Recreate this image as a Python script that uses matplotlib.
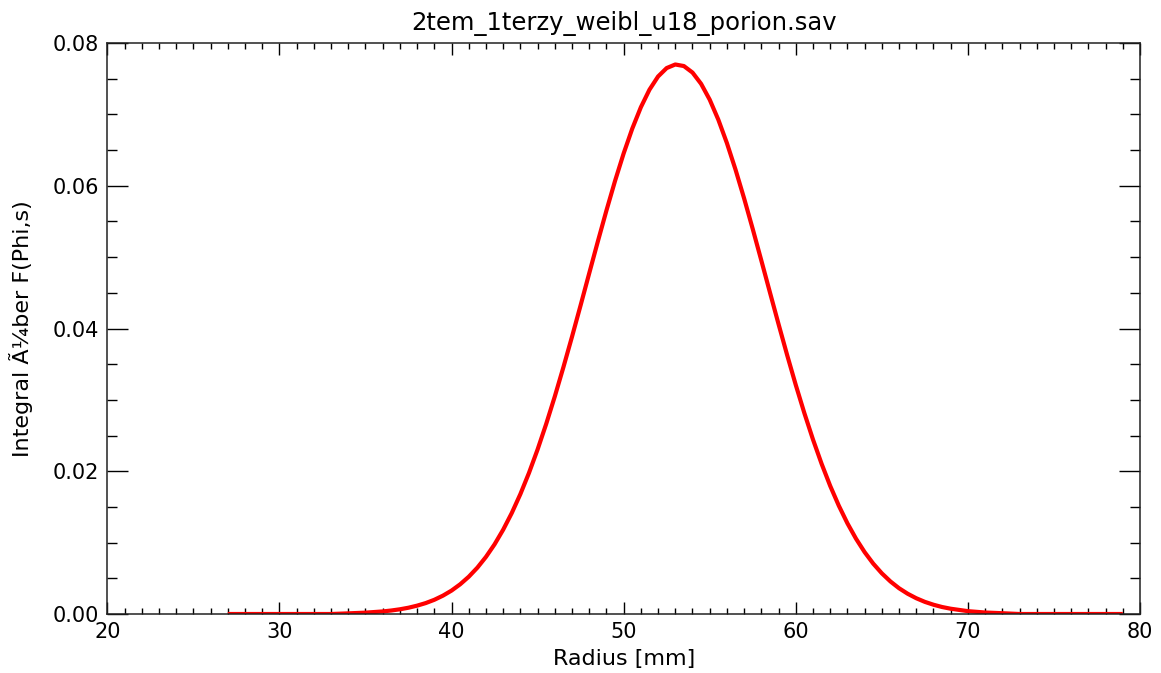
import matplotlib
matplotlib.use("Agg")
import matplotlib.pyplot as plt
from matplotlib.ticker import MultipleLocator, FormatStrFormatter

title = "2tem_1terzy_weibl_u18_porion.sav"
xlabel = "Radius [mm]"
ylabel = "Integral Ã¼ber F(Phi,s)"

radius = [27, 28, 29, 30, 31, 32, 33, 34, 35,
          36.0, 36.5, 37.0, 37.5, 38.0, 38.5, 39.0, 39.5, 40.0, 40.5, 41.0, 41.5,
          42.0, 42.5, 43.0, 43.5, 44.0, 44.5, 45.0, 45.5, 46.0, 46.5, 47.0, 47.5,
          48.0, 48.5, 49.0, 49.5, 50.0, 50.5, 51.0, 51.5, 52.0, 52.5, 53.0, 53.5,
          54.0, 54.5, 55.0, 55.5, 56.0, 56.5, 57.0, 57.5, 58.0, 58.5, 59.0, 59.5,
          60.0, 60.5, 61.0, 61.5, 62.0, 62.5, 63.0, 63.5, 64.0, 64.5, 65.0, 65.5,
          66.0, 66.5, 67.0, 67.5, 68.0, 68.5, 69.0, 70, 71, 72,
          73, 74, 75, 76, 77, 78, 79]
integral = [0.0, 0.0, 0.0, 0.0, 0.0, 0.0, 0.0, 0.00009, 0.00019,
            0.00036, 0.00049, 0.00066, 0.00088, 0.00117, 0.00153, 0.00199, 0.00257,
            0.00328, 0.00416, 0.00522, 0.00649, 0.00800, 0.00976, 0.01181, 0.01415,
            0.01680, 0.01977, 0.02305, 0.02663, 0.03048, 0.03458, 0.03885, 0.04326,
            0.04774, 0.05219, 0.05653, 0.06068, 0.06453, 0.06800, 0.07100, 0.07346,
            0.07531, 0.07649, 0.07699, 0.07677, 0.07586, 0.07428, 0.07206, 0.06926,
            0.06597, 0.06226, 0.05822, 0.05394, 0.04952, 0.04505, 0.04061, 0.03627,
            0.03209, 0.02814, 0.02445, 0.02105, 0.01795, 0.01518, 0.01271, 0.01055,
            0.00867, 0.00706, 0.00570, 0.00456, 0.00361, 0.00284, 0.00221, 0.00170,
            0.00130, 0.00098, 0.00074, 0.00040, 0.00021, 0.00011,
            0.0, 0.0, 0.0, 0.0, 0.0, 0.0, 0.0]

plt.rcParams['font.family'] = ['DejaVu Sans']
fig = plt.figure(figsize=(11.61, 6.73), dpi=100)
ax = fig.add_axes([107.3 / 1161, (673 - 614) / 673, (1140 - 107.3) / 1161, (614 - 43) / 673])

ax.plot(radius, integral, color='#ff0000', linewidth=3.0, solid_capstyle='butt',
        solid_joinstyle='round')

ax.set_xlim(20, 80)
ax.set_ylim(0, 0.08)
ax.xaxis.set_major_locator(MultipleLocator(10))
ax.xaxis.set_minor_locator(MultipleLocator(1))
ax.yaxis.set_major_locator(MultipleLocator(0.02))
ax.yaxis.set_minor_locator(MultipleLocator(0.005))
ax.yaxis.set_major_formatter(FormatStrFormatter('%.2f'))

ax.tick_params(axis='x', which='major', direction='in', length=8.3, width=1.0,
               top=True, bottom=True, labelsize=15, pad=6)
ax.tick_params(axis='x', which='minor', direction='in', length=4.2, width=1.0,
               top=True, bottom=True)
ax.tick_params(axis='y', which='major', direction='in', length=15, width=1.0,
               left=True, right=True, labelsize=15, pad=6)
ax.tick_params(axis='y', which='minor', direction='in', length=7.5, width=1.0,
               left=True, right=True)
for s in ax.spines.values():
    s.set_linewidth(1.1)
    s.set_color('#222222')

ax.set_title(title, fontsize=17.5, pad=9)
ax.set_xlabel(xlabel, fontsize=16, labelpad=5)
ax.set_ylabel(ylabel, fontsize=16, labelpad=14)

fig.savefig("out.png", dpi=100, facecolor='white')
